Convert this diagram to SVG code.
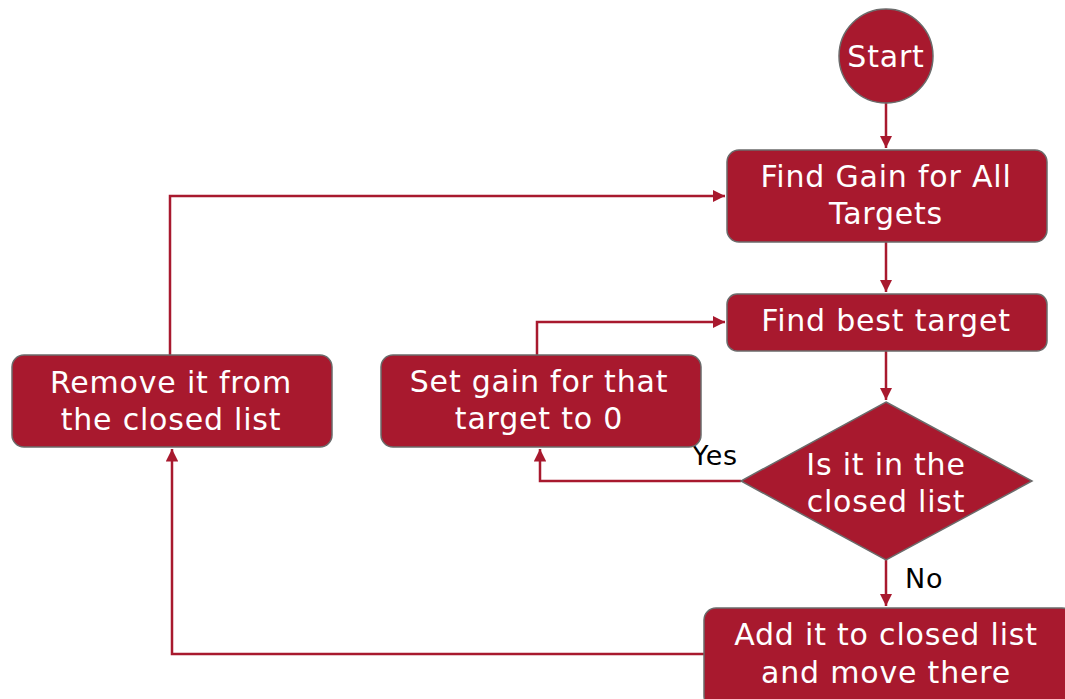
<svg xmlns="http://www.w3.org/2000/svg" width="1065" height="699" viewBox="0 0 1065 699">
<style>
.n{fill:#A8192E;stroke:#6b6b6b;stroke-width:1.5}
.t{fill:#fff;font-family:"DejaVu Sans",Verdana,sans-serif;font-size:30px;text-anchor:middle;letter-spacing:0.8px}
.l{fill:#000;font-family:"DejaVu Sans",Verdana,sans-serif;font-size:27px;letter-spacing:0.8px}
.c{fill:none;stroke:#A8192E;stroke-width:2.5}
</style>
<defs>
<marker id="a" viewBox="0 0 10 10" refX="10" refY="5" markerWidth="5" markerHeight="5" orient="auto" markerUnits="strokeWidth">
<path d="M0,0L10,5L0,10z" fill="#A8192E"/>
</marker>
</defs>
<rect width="1065" height="699" fill="#fff"/>
<g id="connectors">
<path class="c" d="M886,103V148" marker-end="url(#a)"/>
<path class="c" d="M886,242V292" marker-end="url(#a)"/>
<path class="c" d="M886,351V400" marker-end="url(#a)"/>
<path class="c" d="M886,560V606" marker-end="url(#a)"/>
<path class="c" d="M741,481H540V449" marker-end="url(#a)"/>
<path class="c" d="M537,355V322H725" marker-end="url(#a)"/>
<path class="c" d="M704,654H172V449" marker-end="url(#a)"/>
<path class="c" d="M170,355V196H725" marker-end="url(#a)"/>
<text class="l" x="692" y="465">Yes</text>
<text class="l" x="905" y="588">No</text>
</g>
<g id="start">
<circle class="n" cx="886" cy="56" r="47"/>
<text class="t" x="886" y="67">Start</text>
</g>
<g id="find-gain">
<rect class="n" x="727" y="150" width="320" height="92" rx="12"/>
<text class="t" x="886" y="187">Find Gain for All</text>
<text class="t" x="886" y="224">Targets</text>
</g>
<g id="find-best">
<rect class="n" x="727" y="294" width="320" height="57" rx="10"/>
<text class="t" x="886" y="331">Find best target</text>
</g>
<g id="decision">
<polygon class="n" points="886,402 1032,481 886,560 741,481"/>
<text class="t" x="886" y="475">Is it in the</text>
<text class="t" x="886" y="512">closed list</text>
</g>
<g id="set-gain">
<rect class="n" x="381" y="355" width="320" height="92" rx="12"/>
<text class="t" x="539" y="392">Set gain for that</text>
<text class="t" x="539" y="429">target to 0</text>
</g>
<g id="remove">
<rect class="n" x="12" y="355" width="320" height="92" rx="12"/>
<text class="t" x="171" y="393">Remove it from</text>
<text class="t" x="171" y="430">the closed list</text>
</g>
<g id="add">
<rect class="n" x="704" y="608" width="370" height="100" rx="12"/>
<text class="t" x="886" y="645">Add it to closed list</text>
<text class="t" x="886" y="683">and move there</text>
</g>
</svg>
